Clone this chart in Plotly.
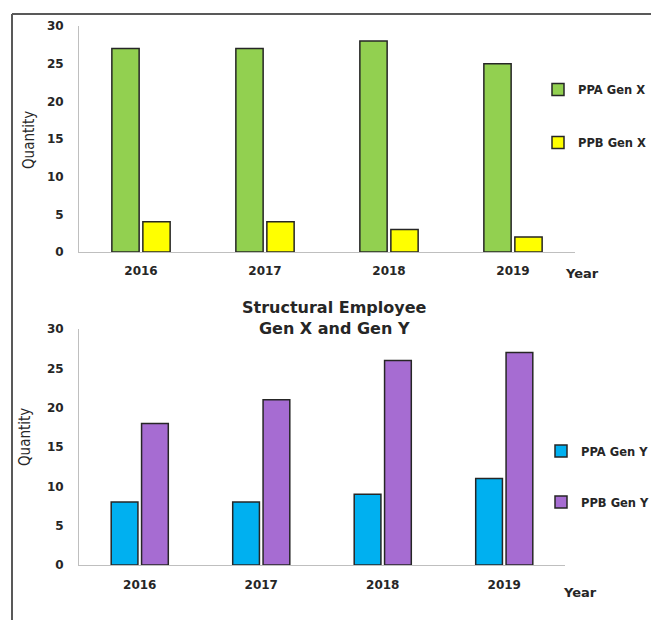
import plotly.graph_objects as go

years = ["2016", "2017", "2018", "2019"]
ppa_gen_x = [27, 27, 28, 25]
ppb_gen_x = [4, 4, 3, 2]
ppa_gen_y = [8, 8, 9, 11]
ppb_gen_y = [18, 21, 26, 27]

W, H = 651, 620
def px(x):
    return x / W
def py(y):
    return 1 - y / H

OUTLINE = dict(color="#262626", width=1.5)
TXT = "#262626"
BOLD = dict(family="DejaVu Sans", size=11.5, color=TXT, weight="bold")
NARROW = "DejaVu Sans Condensed, Liberation Sans Narrow, Roboto Condensed, sans-serif"

fig = go.Figure()
fig.add_trace(go.Bar(x=years, y=ppa_gen_x, name="PPA Gen X",
                     marker=dict(color="#92D050", line=OUTLINE),
                     xaxis="x", yaxis="y", legend="legend", legendgroup="a"))
fig.add_trace(go.Bar(x=years, y=ppb_gen_x, name="PPB Gen X",
                     marker=dict(color="#FFFF00", line=OUTLINE),
                     xaxis="x", yaxis="y", legend="legend", legendgroup="b"))
fig.add_trace(go.Bar(x=years, y=ppa_gen_y, name="PPA Gen Y",
                     marker=dict(color="#00B0F0", line=OUTLINE),
                     xaxis="x2", yaxis="y2", legend="legend2", legendgroup="c"))
fig.add_trace(go.Bar(x=years, y=ppb_gen_y, name="PPB Gen Y",
                     marker=dict(color="#A66CD2", line=OUTLINE),
                     xaxis="x2", yaxis="y2", legend="legend2", legendgroup="d"))

axis_common = dict(showline=True, linecolor="#bfbfbf", linewidth=1, showgrid=False,
                   zeroline=False, ticks="", automargin=False,
                   tickfont=dict(family="DejaVu Sans", size=12, color=TXT, weight="bold"))

def ann(text, x, y, size, family="DejaVu Sans", bold=True, angle=0):
    f = dict(family=family, size=size, color=TXT)
    if bold:
        f["weight"] = "bold"
    return dict(text=text, xref="paper", yref="paper", x=px(x), y=py(y), textangle=angle,
                xanchor="center", yanchor="middle", showarrow=False, font=f)

fig.update_layout(
    width=W, height=H, margin=dict(l=0, r=0, t=0, b=0, autoexpand=False),
    paper_bgcolor="white", plot_bgcolor="white",
    barmode="group", bargap=0.5, bargroupgap=0.12,
    xaxis=dict(domain=[px(79), px(575)], anchor="y", ticklabelstandoff=8, **axis_common),
    yaxis=dict(domain=[py(252), py(26)], anchor="x", range=[0, 30], dtick=5,
               ticklabelstandoff=12, **axis_common),
    xaxis2=dict(domain=[px(79), px(565)], anchor="y2", ticklabelstandoff=9, **axis_common),
    yaxis2=dict(domain=[py(565), py(329)], anchor="x2", range=[0, 30], dtick=5,
                ticklabelstandoff=12, **axis_common),
    legend=dict(x=px(538), y=py(75), xanchor="left", yanchor="top", tracegroupgap=34,
                font=BOLD, bgcolor="rgba(0,0,0,0)", itemclick=False, itemdoubleclick=False),
    legend2=dict(x=px(541), y=py(436.5), xanchor="left", yanchor="top", tracegroupgap=32,
                 font=BOLD, bgcolor="rgba(0,0,0,0)", itemclick=False, itemdoubleclick=False),
    shapes=[
        dict(type="line", xref="paper", yref="paper", x0=px(12), x1=1, y0=py(14), y1=py(14),
             line=dict(color="#595959", width=2)),
        dict(type="line", xref="paper", yref="paper", x0=px(12), x1=px(12), y0=py(14), y1=0,
             line=dict(color="#595959", width=2)),
    ],
    annotations=[
        ann("Quantity", 29, 140, 15, family=NARROW, bold=False, angle=-90),
        ann("Quantity", 25, 437, 15, family=NARROW, bold=False, angle=-90),
        ann("Year", 582, 273, 13),
        ann("Year", 580, 592, 13),
        ann("Structural Employee<br>Gen X and Gen Y", 334, 317.5, 16),
    ],
)

fig.write_html("out.html")
